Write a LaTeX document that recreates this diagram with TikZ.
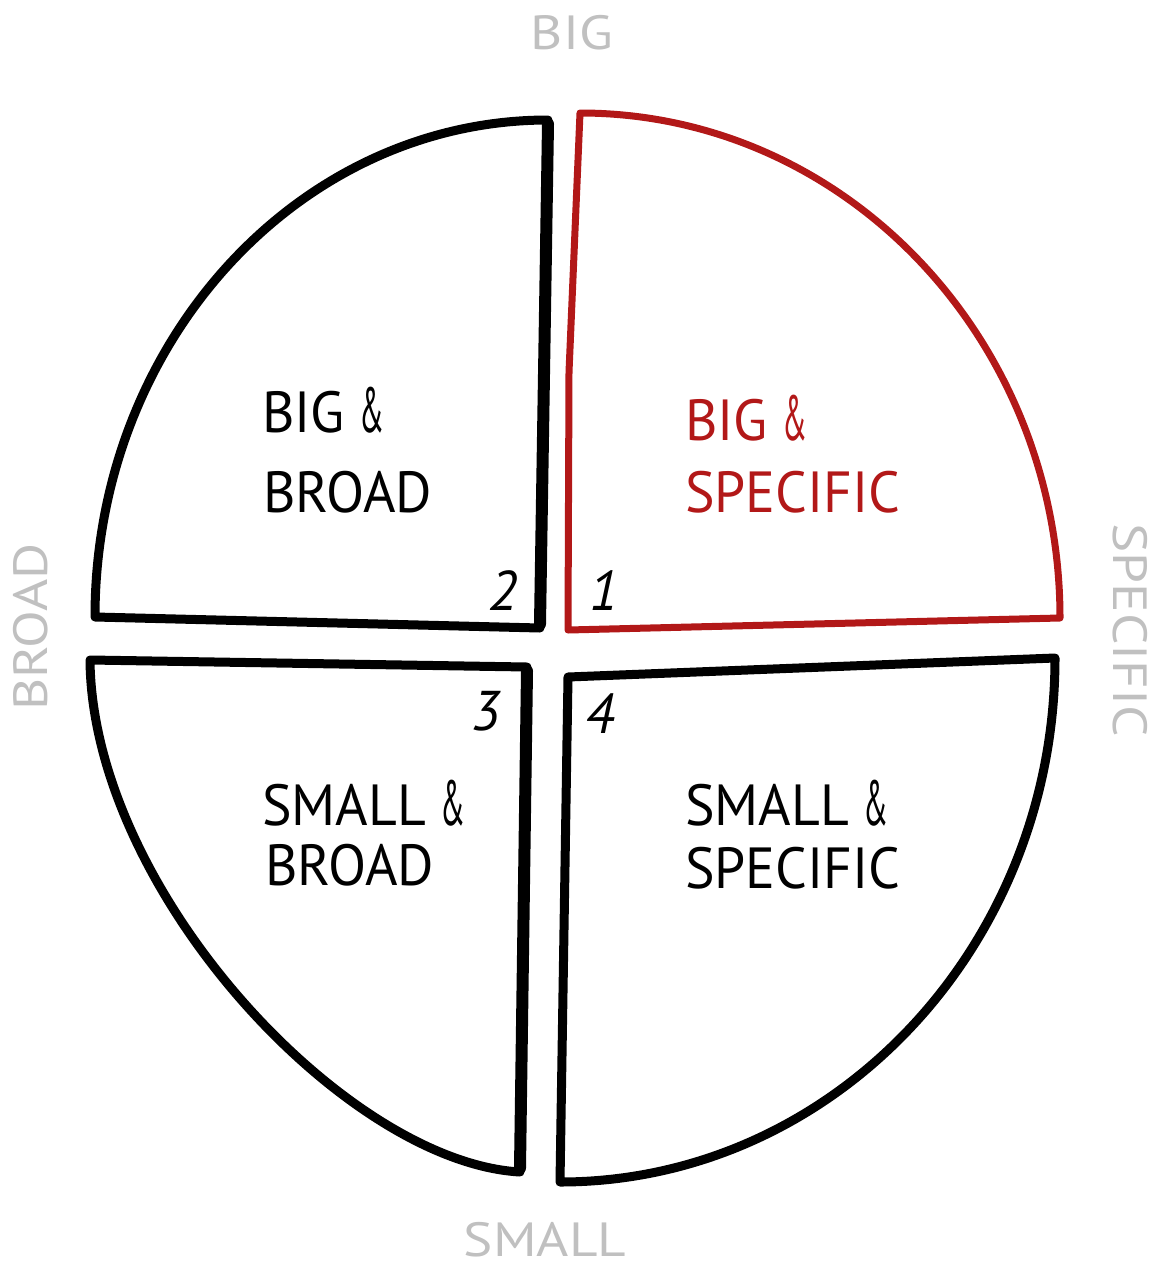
\documentclass[tikz,border=0pt]{standalone}
\usepackage{fontspec}
\setmainfont{PT Sans}
\definecolor{penred}{RGB}{178,24,24}
\definecolor{axisgray}{RGB}{192,192,192}
\newcommand\hwtext[1]{\scalebox{0.96}[1]{#1}}
\newcommand\axtext[1]{\scalebox{1.15}[1]{#1}}
\newcommand\hwamp{\scalebox{0.55}[1.1]{\&}}
\begin{document}
\begin{tikzpicture}[x=1pt,y=-1pt,
  quad/.style={draw=black, line width=9pt, line join=round, line cap=round},
  redquad/.style={draw=penred, line width=7pt, line join=round, line cap=round},
  thickedge/.style={draw=black, line width=12pt, line cap=round},
  lbl/.style={inner sep=0pt, anchor=base west, font=\fontsize{58}{60}\selectfont},
  num/.style={inner sep=0pt, anchor=base, font=\itshape\fontsize{56}{60}\selectfont},
  axislbl/.style={inner sep=0pt, text=axisgray, font=\fontsize{48}{50}\selectfont}]
\useasboundingbox (0,0) rectangle (1159,1272);

% quadrant 2 (top-left)
\draw[quad] (95,617) .. controls (95,343) and (298,120) .. (548,120) -- (540,628) -- cycle;
\draw[thickedge] (548,124) -- (540,624);
% quadrant 1 (top-right, red)
\draw[redquad] (580,113) -- (569,372) -- (568,630) -- (1060,618) .. controls (1060,339) and (845,113) .. (580,113) -- cycle;
% quadrant 3 (bottom-left)
\draw[quad] (90,660) -- (527,667) -- (520,1172) .. controls (345,1162) and (92,890) .. (90,660) -- cycle;
\draw[thickedge] (527,671) -- (520,1168);
% quadrant 4 (bottom-right)
\draw[quad] (568,677) -- (1055,658) .. controls (1055,947) and (833,1182) .. (560,1182) -- cycle;

% quadrant texts
\node[lbl] (q2a) at (262,432) {\hwtext{BIG \hwamp}};
\node[lbl] (q2b) at (263,512) {\hwtext{BROAD}};
\node[lbl, text=penred] (q1a) at (685,440) {\hwtext{BIG \hwamp}};
\node[lbl, text=penred] (q1b) at (685,512) {\hwtext{SPECIFIC}};
\node[lbl] (q3a) at (262,825) {\hwtext{SMALL \hwamp}};
\node[lbl] (q3b) at (265,885) {\hwtext{BROAD}};
\node[lbl] (q4a) at (685,825) {\hwtext{SMALL \hwamp}};
\node[lbl] (q4b) at (685,888) {\hwtext{SPECIFIC}};

% numbers
\node[num] (n2) at (503,610) {2};
\node[num] (n1) at (604,610) {1};
\node[num] (n3) at (486,730) {3};
\node[num] (n4) at (600,733) {4};

% axis labels
\node[axislbl] (big) at (572,33) {\axtext{BIG}};
\node[axislbl] (small) at (545,1240) {\axtext{SMALL}};
\node[axislbl, rotate=90] (broad) at (31,627) {\axtext{BROAD}};
\node[axislbl, rotate=-90] (specific) at (1130,630) {\axtext{SPECIFIC}};
\end{tikzpicture}
\end{document}
